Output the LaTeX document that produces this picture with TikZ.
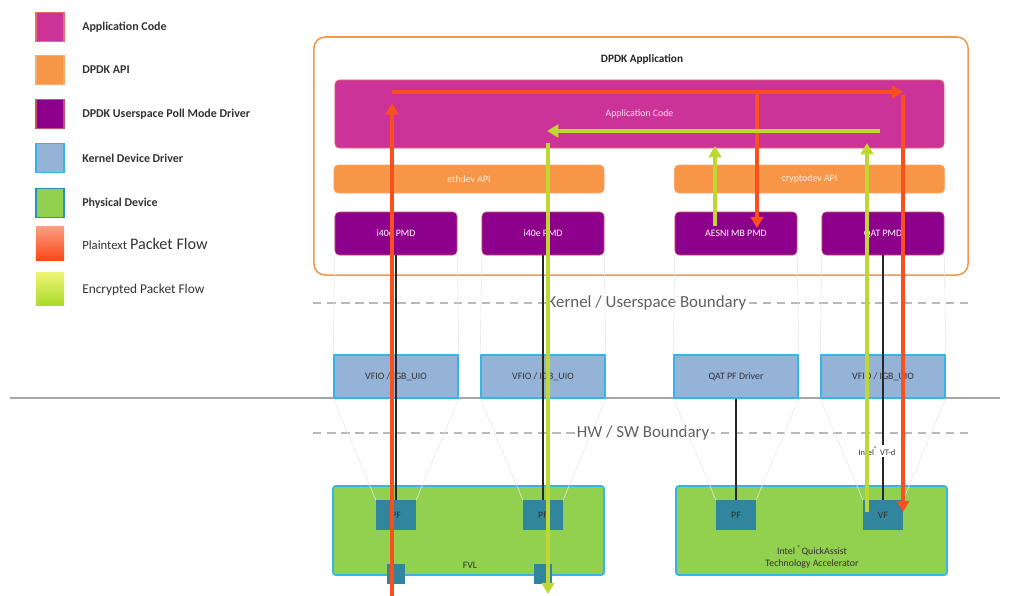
\documentclass[tikz,border=0pt]{standalone}
\usepackage{fontspec}
\setmainfont{Carlito}
\usepackage{tikz}
\usetikzlibrary{arrows.meta}

\definecolor{appcode}{RGB}{204,51,153}
\definecolor{dpdkapi}{RGB}{247,150,70}
\definecolor{pmdcol}{RGB}{140,0,140}
\definecolor{kerncol}{RGB}{149,179,215}
\definecolor{physcol}{RGB}{146,208,80}
\definecolor{cyanedge}{RGB}{49,182,231}
\definecolor{portcol}{RGB}{49,133,156}
\definecolor{plainflow}{RGB}{250,80,30}
\definecolor{cryptflow}{RGB}{190,215,50}

\tikzset{
  dpdkbox/.style={rectangle, rounded corners=3pt, inner sep=0pt, text=white, font=\fontsize{7}{8}\selectfont},
  appbar/.style={dpdkbox, fill=appcode, draw=dpdkapi!60!appcode, minimum width=15.225cm, minimum height=1.7cm, text=white!85!appcode},
  apibar/.style={dpdkbox, fill=dpdkapi, draw=dpdkapi!80!white, minimum width=6.75cm, minimum height=0.7cm, text=white!85!dpdkapi},
  pmdbox/.style={dpdkbox, fill=pmdcol, draw=dpdkapi!55!pmdcol, minimum width=3.05cm, minimum height=1.075cm},
  kernbox/.style={rectangle, inner sep=0pt, fill=kerncol, draw=cyanedge, line width=1pt, text=black!80, font=\fontsize{7}{8}\selectfont, minimum width=3.1cm, minimum height=1.075cm},
  devbox/.style={rectangle, rounded corners=2pt, fill=physcol, draw=cyanedge, line width=1.2pt, minimum width=6.775cm, minimum height=2.225cm},
  fnbox/.style={rectangle, inner sep=0pt, fill=portcol, minimum width=1cm, minimum height=0.75cm, text=black!80, font=\fontsize{7}{8}\selectfont},
  portbox/.style={rectangle, fill=portcol, minimum width=0.45cm, minimum height=0.5cm},
  legbox/.style={rectangle, minimum width=0.7cm, minimum height=0.72cm, line width=1.2pt},
  legtext/.style={anchor=west, inner sep=0pt, text=black!80, font=\bfseries\fontsize{8.5}{10}\selectfont},
  boundary/.style={gray!55, line width=0.8pt, dash pattern=on 6pt off 4pt},
  boundtext/.style={fill=white, inner sep=1pt, text=gray!75!black, font=\fontsize{12}{14}\selectfont},
  plainarrow/.style={plainflow, line width=3pt, -{Triangle[length=8pt,width=9pt]}},
  cryptarrow/.style={cryptflow, line width=3pt, -{Triangle[length=8pt,width=9pt]}},
  wire/.style={black!85, line width=1pt},
  guide/.style={gray!18, line width=0.4pt}
}

\begin{document}
\begin{tikzpicture}[x=0.025cm, y=-0.025cm]
    \useasboundingbox (0,0) rectangle (1011,595);

    %legend
    \node[legbox, fill=appcode, draw=dpdkapi!60!appcode] (legapp) at (50,27) {};
    \node[legbox, fill=dpdkapi, draw=dpdkapi!80!white] (legapi) at (50,70) {};
    \node[legbox, fill=pmdcol, draw=dpdkapi!55!pmdcol] (legpmd) at (50,114) {};
    \node[legbox, fill=kerncol, draw=cyanedge] (legkern) at (50,158) {};
    \node[legbox, fill=physcol, draw=cyanedge!80!black] (legphys) at (50,203) {};
    \node[legbox, minimum height=0.85cm, top color=plainflow!55!white, bottom color=plainflow!90!red] (legplain) at (50,243) {};
    \node[legbox, minimum height=0.82cm, top color=yellow!55!cryptflow!60!white, bottom color=cryptflow!90!green] (legcrypt) at (50,289) {};

    \node[legtext] (tapp) at (82,27) {Application Code};
    \node[legtext] (tapi) at (82,70) {DPDK API};
    \node[legtext] (tpmd) at (82,114) {DPDK Userspace Poll Mode Driver};
    \node[legtext] (tkern) at (82,158) {Kernel Device Driver};
    \node[legtext] (tphys) at (82,203) {Physical Device};
    \node[legtext, font=\fontsize{9}{11}\selectfont] (tplain) at (82,244) {Plaintext \fontsize{11.5}{13}\selectfont Packet Flow};
    \node[legtext, font=\fontsize{9.5}{11}\selectfont] (tcrypt) at (82,290) {Encrypted Packet Flow};

    %user space
    \node[rectangle, rounded corners=8pt, draw=dpdkapi, line width=1.1pt, fill=white, minimum width=16.35cm, minimum height=5.95cm] (dpdkapp) at (641,156) {};
    \node[font=\bfseries\fontsize{8}{10}\selectfont, text=black!85] (apptitle) at (642,59) {DPDK Application};
    \node[appbar] (appcode) at (639.5,114) {Application Code};
    \node[apibar] (ethdev) at (469,179) {ethdev API};
    \node[apibar] (cryptodev) at (809.5,179) {cryptodev API};

    \node[pmdbox] (pmd1) at (396,233.5) {i40e PMD};
    \node[pmdbox] (pmd2) at (543,233.5) {i40e PMD};
    \node[pmdbox] (pmd3) at (736,233.5) {AESNI MB PMD};
    \node[pmdbox] (pmd4) at (883,233.5) {QAT PMD};

    %boundaries
    \coordinate (kubl) at (313,303);
    \coordinate (kubr) at (968,303);
    \coordinate (hwl) at (313,433);
    \coordinate (hwr) at (968,433);
    \coordinate (sepl) at (10,398);
    \coordinate (sepr) at (1000,398);
    \draw[boundary] (kubl) -- (kubr);
    \draw[boundary] (hwl) -- (hwr);
    \draw[gray!70, line width=0.8pt] (sepl) -- (sepr);
    \node[boundtext] (kutext) at (647,303) {Kernel / Userspace Boundary};
    \node[boundtext] (hwtext) at (643,433) {HW / SW Boundary};

    %kernel drivers
    \node[kernbox] (kern1) at (396,376.5) {VFIO / IGB\_UIO};
    \node[kernbox] (kern2) at (543,376.5) {VFIO / IGB\_UIO};
    \node[kernbox] (kern3) at (736,376.5) {QAT PF Driver};
    \node[kernbox] (kern4) at (883,376.5) {VFIO / IGB\_UIO};

    %devices
    \node[devbox] (fvl) at (468.5,530.5) {};
    \node[devbox] (qat) at (811.5,530.5) {};
    \node[fnbox] (pf1) at (396,515) {PF};
    \node[fnbox] (pf2) at (543,515) {PF};
    \node[fnbox] (qpf) at (736,515) {PF};
    \node[fnbox] (vf) at (883,515) {VF};
    \node[portbox] (port1) at (396,574) {};
    \node[portbox] (port2) at (543,574) {};
    \node[font=\fontsize{7}{8}\selectfont, text=black!80] (fvltext) at (470,565) {FVL};
    \node[font=\fontsize{7}{8.5}\selectfont, text=black!80, align=center] (qattext) at (812,557) {Intel \textsuperscript{®}QuickAssist\\Technology Accelerator};

    %faint guides
    \foreach \p/\k/\f in {pmd1/kern1/pf1, pmd2/kern2/pf2, pmd3/kern3/qpf, pmd4/kern4/vf} {
      \draw[guide] (\p.south west) -- (\k.north west);
      \draw[guide] (\p.south east) -- (\k.north east);
      \draw[guide] (\k.south west) -- (\f.north west);
      \draw[guide] (\k.south east) -- (\f.north east);
    }

    %control paths
    \draw[wire] (pmd1.south) -- (pf1.north);
    \draw[wire] (pmd2.south) -- (pf2.north);
    \draw[wire] (kern3.south) -- (qpf.north);
    \draw[wire] (pmd4.south) -- (vf.north);
    \node[fill=white, inner sep=1pt, font=\fontsize{6}{7}\selectfont, text=black!80] (vtd) at (877,451) {Intel\textsuperscript{®} VT-d};

    %plaintext flow
    \coordinate (plainin) at (392,600);
    \coordinate (plainup) at (392,103);
    \coordinate (plainl) at (392,92);
    \coordinate (plainr) at (903,92);
    \coordinate (aesin) at (757,92);
    \coordinate (aesend) at (757,228);
    \coordinate (qatin) at (903,95);
    \coordinate (qatend) at (903,512);
    \draw[plainarrow] (plainin) -- (plainup);
    \draw[plainarrow] (plainl) -- (plainr);
    \draw[plainarrow] (aesin) -- (aesend);
    \draw[plainarrow] (qatin) -- (qatend);

    %encrypted flow
    \coordinate (cryptvf) at (867,512);
    \coordinate (cryptup) at (867,143);
    \coordinate (cryptr) at (880,131);
    \coordinate (cryptl) at (547,131);
    \coordinate (aesout) at (715,226);
    \coordinate (aesup) at (715,146);
    \coordinate (cryptdown) at (548,143);
    \coordinate (cryptout) at (548,594);
    \draw[cryptarrow] (cryptvf) -- (cryptup);
    \draw[cryptarrow] (cryptr) -- (cryptl);
    \draw[cryptarrow] (aesout) -- (aesup);
    \draw[cryptarrow] (cryptdown) -- (cryptout);
\end{tikzpicture}
\end{document}
